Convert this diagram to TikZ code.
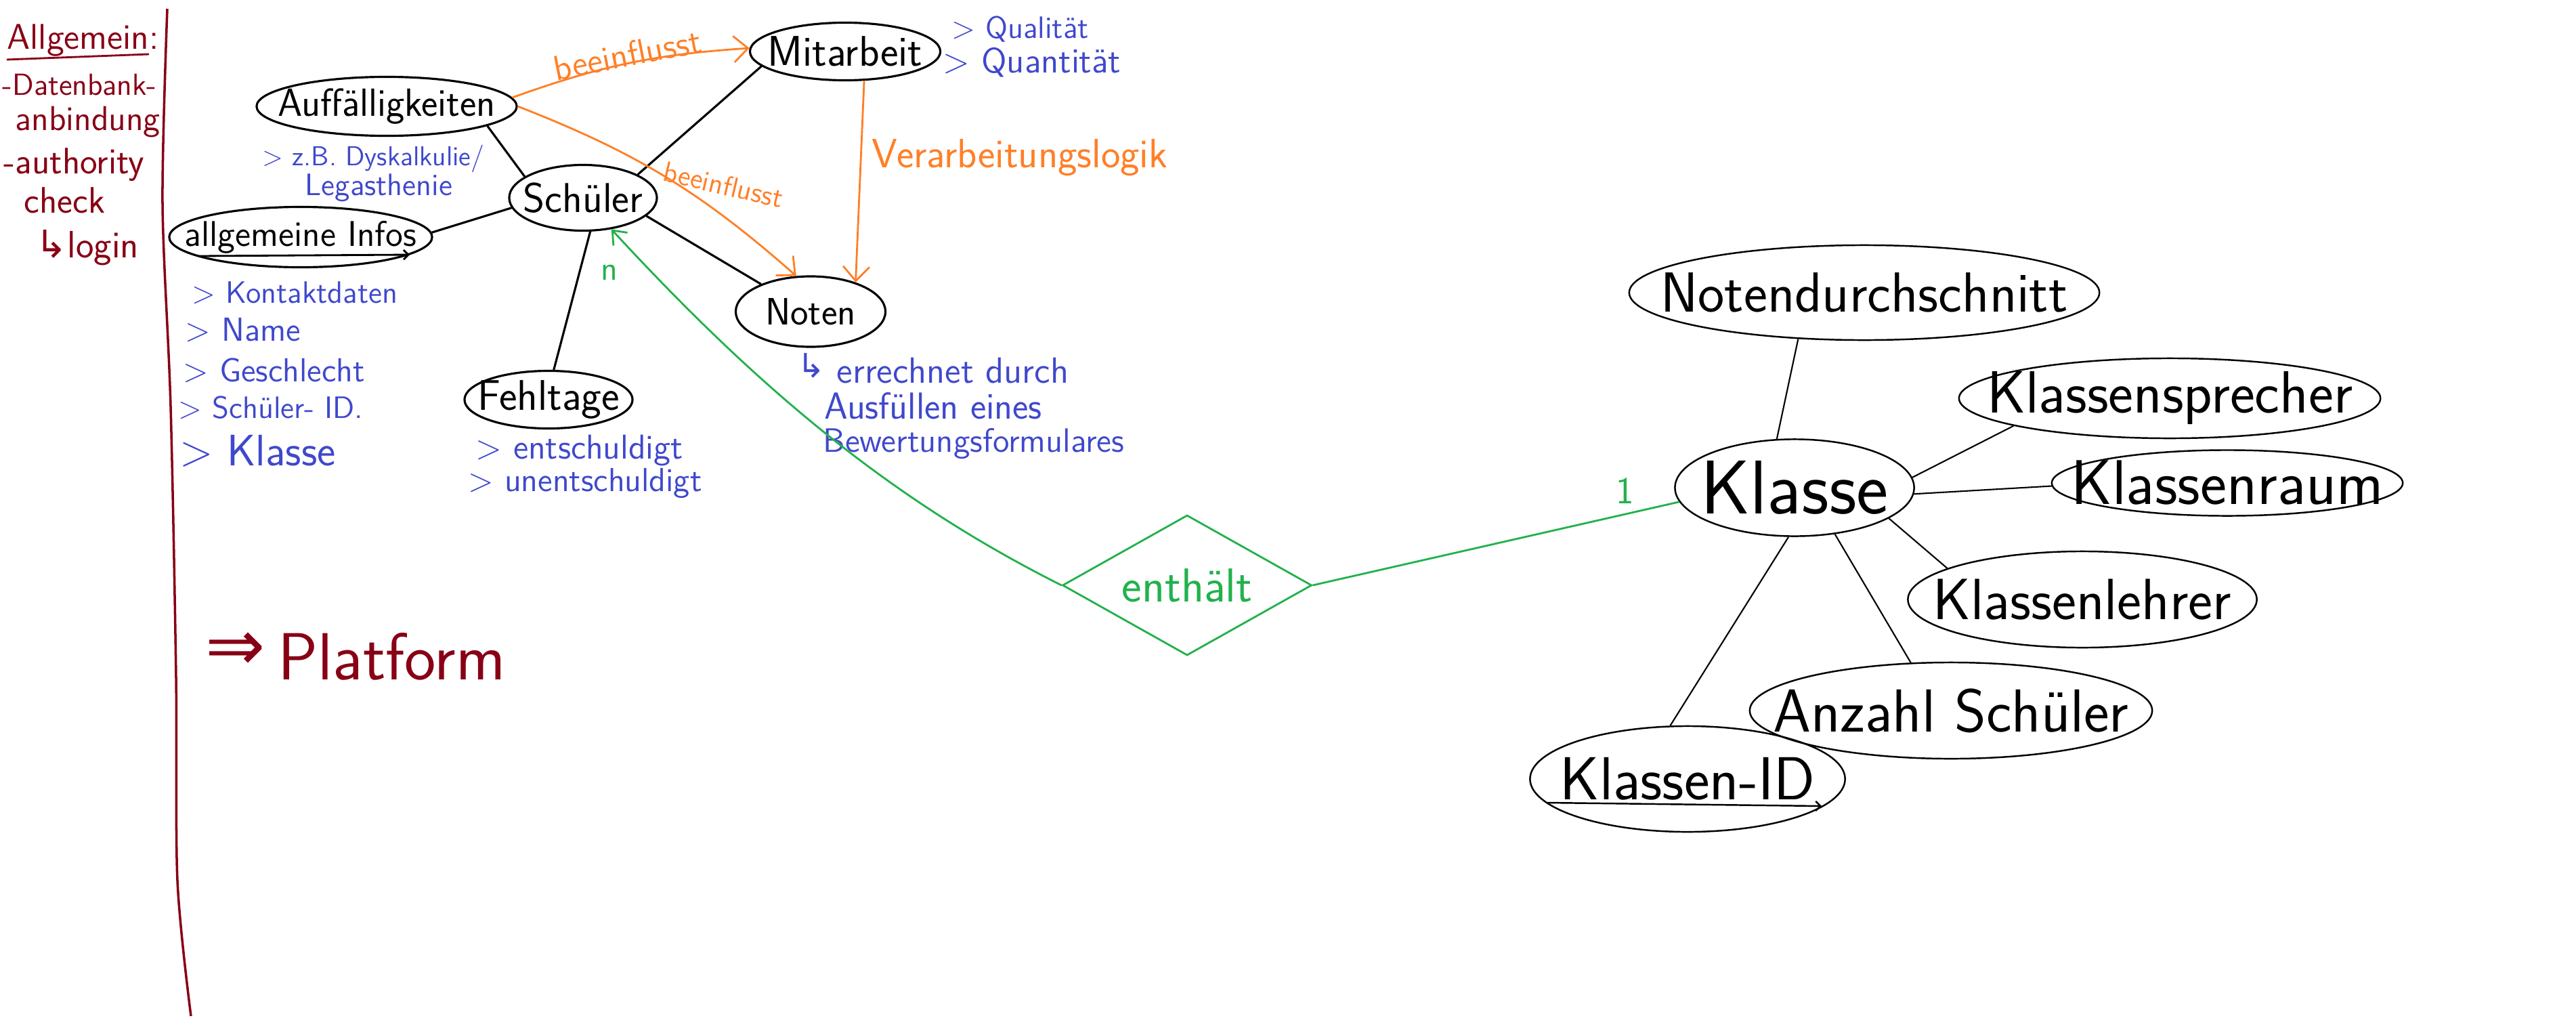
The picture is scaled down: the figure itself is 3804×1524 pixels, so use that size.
\documentclass[tikz,border=0pt]{standalone}
\usepackage{fontspec}
\newfontfamily\arrowfont{DejaVu Sans}
\usetikzlibrary{shapes.geometric,arrows.meta}

\definecolor{pendark}{RGB}{136,0,21}
\definecolor{penorange}{RGB}{255,127,39}
\definecolor{penblue}{RGB}{63,72,204}
\definecolor{pengreen}{RGB}{34,177,76}

\newcommand{\pen}[1]{\fontsize{#1}{#1}\selectfont}
\newcommand{\hwtext}[1]{\hbox to 0pt{\hss#1\hss}}

\tikzset{
    attr/.style={ellipse, draw, line width=0.9pt, inner sep=0pt},
    note/.style={text=penblue, anchor=base west, inner sep=0pt, font=\sffamily\pen{13pt}},
    remark/.style={text=pendark, anchor=base west, inner sep=0pt, font=\sffamily\pen{13pt}},
    link/.style={line width=0.9pt},
    thinlink/.style={line width=0.6pt},
    infl/.style={penorange, line width=0.8pt, -{Straight Barb[length=6pt,width=11pt]}},
    rel/.style={pengreen, line width=0.8pt},
}

\begin{document}
\begin{tikzpicture}[x=0.01cm, y=-0.01cm]
    \useasboundingbox (0,0) rectangle (3804,1524);

    % left column
    \node[remark, font=\sffamily\pen{15pt}] (allg) at (10,72) {Allgemein:};
    \draw[pendark, line width=0.8pt] (10,88) -- (220,80);
    \node[remark, font=\sffamily\pen{12.8pt}] (db) at (3,140) {-Datenbank-};
    \node[remark, font=\sffamily\pen{14.5pt}] (anb) at (22,192) {anbindung};
    \node[remark, font=\sffamily\pen{15.5pt}] (auth) at (5,256) {-authority};
    \node[remark, font=\sffamily\pen{15.5pt}] (chk) at (35,314) {check};
    \node[remark, font=\sffamily\pen{16pt}] (login) at (52,380) {{\arrowfont ↳}login};
    \draw[pendark, line width=1pt] plot[smooth] coordinates {(247,13) (240,300) (252,600) (260,1000) (262,1300) (282,1500)};
    \node[text=pendark, font=\arrowfont\pen{30pt}, inner sep=0pt] (impl) at (348,962) {⇒};
    \node[remark, font=\sffamily\pen{28pt}] (plat) at (410,1003) {Platform};

    % Schueler
    \node[attr, minimum width=3.84cm, minimum height=0.87cm, font=\sffamily\pen{16.5pt}] (auf) at (571,157) {\hwtext{Auffälligkeiten}};
    \node[attr, minimum width=2.81cm, minimum height=0.85cm, font=\sffamily\pen{18pt}] (mit) at (1248,76) {\hwtext{Mitarbeit}};
    \node[attr, minimum width=2.18cm, minimum height=0.97cm, font=\sffamily\pen{17.5pt}] (sch) at (861,292) {\hwtext{Schüler}};
    \node[attr, minimum width=3.88cm, minimum height=0.89cm, font=\sffamily\pen{15pt}] (inf) at (444,350) {\hwtext{allgemeine Infos}};
    \draw[line width=0.8pt, -{Straight Barb[length=2pt,width=4pt]}] (293,378) -- (605,376);
    \node[attr, minimum width=2.48cm, minimum height=0.85cm, font=\sffamily\pen{18pt}] (feh) at (810,590) {\hwtext{Fehltage}};
    \node[attr, minimum width=2.21cm, minimum height=1.04cm, font=\sffamily\pen{16pt}] (not) at (1197,460) {\hwtext{Noten}};

    \draw[link] (auf.-11) -- (sch.160);
    \draw[link] (mit.190) -- (sch.23);
    \draw[link] (inf.2) -- (sch.188);
    \draw[link] (sch.-16) -- (not.151);
    \draw[link] (sch.-78) -- (feh.80);

    % notes
    \node[note, font=\sffamily\pen{11.5pt}] (dys) at (387,244) {> z.B. Dyskalkulie/};
    \node[note, font=\sffamily\pen{13pt}] (leg) at (450,288) {Legasthenie};
    \node[note] (kon) at (283,447) {> Kontaktdaten};
    \node[note, font=\sffamily\pen{14pt}] (nam) at (273,503) {> Name};
    \node[note, font=\sffamily\pen{14pt}] (ges) at (270,563) {> Geschlecht};
    \node[note] (sid) at (263,617) {> Schüler- ID.};
    \node[note, font=\sffamily\pen{18.5pt}] (kls) at (265,687) {> Klasse};
    \node[note, font=\sffamily\pen{14.5pt}] (ent) at (702,677) {> entschuldigt};
    \node[note, font=\sffamily\pen{14pt}] (unent) at (691,725) {> unentschuldigt};
    \node[note, font=\sffamily\pen{13pt}] (qual) at (1405,57) {> Qualität};
    \node[note, font=\sffamily\pen{14.8pt}] (quan) at (1392,107) {> Quantität};
    \node[note, font=\arrowfont\pen{14pt}] (hook) at (1177,557) {↳};
    \node[note, font=\sffamily\pen{15.3pt}] (err) at (1235,565) {errechnet durch};
    \node[note, font=\sffamily\pen{15.8pt}] (aus) at (1217,618) {Ausfüllen eines};
    \node[note, font=\sffamily\pen{14.2pt}] (bew) at (1215,667) {Bewertungsformulares};

    % influence
    \draw[infl] (auf.4) to[bend left=8] (mit.178);
    \draw[infl] (auf.0) to[bend left=10] (not.112);
    \draw[infl] (mit.-57) -- (not.33);
    \node[text=penorange, font=\sffamily\pen{14.7pt}, anchor=base, inner sep=0pt, rotate=11] (inf1) at (930,98) {beeinflusst};
    \node[text=penorange, font=\sffamily\pen{12pt}, anchor=base, inner sep=0pt, rotate=-13] (inf2) at (1065,287) {beeinflusst};
    \node[text=penorange, font=\sffamily\pen{17.2pt}, anchor=base west, inner sep=0pt] (logik) at (1287,247) {Verarbeitungslogik};

    % relation
    \node[diamond, draw=pengreen, line width=0.8pt, aspect=1.78, minimum width=3.68cm, minimum height=2.07cm, inner sep=0pt, text=pengreen, font=\sffamily\pen{20pt}] (dia) at (1753,864) {enthält};
    \draw[rel, {Straight Barb[length=5pt,width=8pt]}-] (sch.-48) .. controls (1120,574) and (1316,738) .. (dia.west);
    \node[text=pengreen, font=\sffamily\pen{14pt}, anchor=base, inner sep=0pt] (card1) at (900,413) {n};

    % Klasse
    \node[attr, line width=0.7pt, minimum width=3.53cm, minimum height=1.43cm, font=\sffamily\pen{32pt}] (kla) at (2650,720) {\hwtext{Klasse}};
    \node[attr, line width=0.7pt, minimum width=6.94cm, minimum height=1.40cm, font=\sffamily\pen{23.7pt}] (nds) at (2753,432) {\hwtext{Notendurchschnitt}};
    \node[attr, line width=0.7pt, minimum width=6.22cm, minimum height=1.18cm, font=\sffamily\pen{25pt}] (ksp) at (3204,588) {\hwtext{Klassensprecher}};
    \node[attr, line width=0.7pt, minimum width=5.18cm, minimum height=0.97cm, font=\sffamily\pen{26.5pt}] (kra) at (3289,713) {\hwtext{Klassenraum}};
    \node[attr, line width=0.7pt, minimum width=5.15cm, minimum height=1.42cm, font=\sffamily\pen{24.4pt}] (kle) at (3075,885) {\hwtext{Klassenlehrer}};
    \node[attr, line width=0.7pt, minimum width=5.94cm, minimum height=1.42cm, font=\sffamily\pen{25.5pt}] (anz) at (2881,1049) {\hwtext{Anzahl Schüler}};
    \node[attr, line width=0.7pt, minimum width=4.65cm, minimum height=1.56cm, font=\sffamily\pen{25.5pt}] (kid) at (2492,1150) {\hwtext{Klassen-ID}};
    \draw[line width=0.7pt, -{Straight Barb[length=2pt,width=4pt]}] (2285,1185) -- (2690,1190);

    \draw[rel] (dia.east) -- (kla.187);
    \node[text=pengreen, font=\sffamily\pen{16pt}, anchor=base, inner sep=0pt] (card2) at (2400,743) {1};

    \draw[thinlink] (kla.110) -- (nds.215);
    \draw[thinlink] (kla.5) -- (ksp.190);
    \draw[thinlink] (kla.-3) -- (kra.181);
    \draw[thinlink] (kla.-18) -- (kle.167);
    \draw[thinlink] (kla.-49) -- (anz.130);
    \draw[thinlink] (kla.-97) -- (kid.108);
\end{tikzpicture}
\end{document}
